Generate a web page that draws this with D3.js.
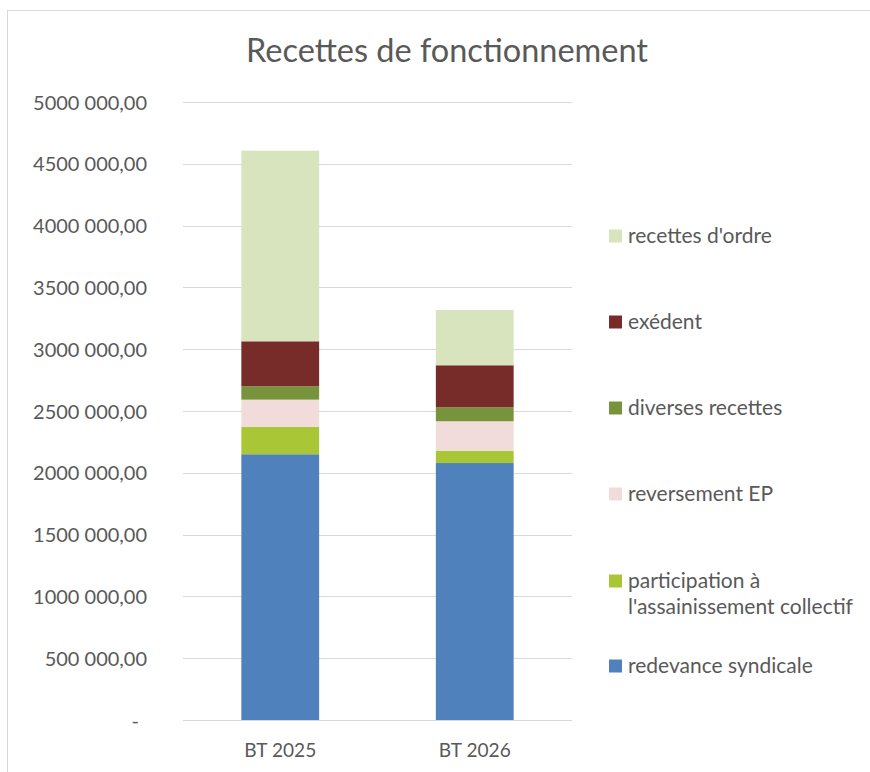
<!DOCTYPE html>
<html><head><meta charset="utf-8">
<script src="https://cdn.jsdelivr.net/npm/d3@7"></script>
<style>body{margin:0;background:#fff}svg{display:block}</style>
</head><body>
<script>
const categories = ["BT 2025", "BT 2026"];
const seriesNames = ["redevance syndicale", "participation à l'assainissement collectif", "reversement EP", "diverses recettes", "exédent", "recettes d'ordre"];
const redevance = [2150000, 2079000];
const participation = [221000, 100000];
const reversementEP = [221000, 238000];
const diverses = [108000, 113000];
const excedent = [364000, 340000];
const ordre = [1542000, 447000];
const yTicks = [0, 500000, 1000000, 1500000, 2000000, 2500000, 3000000, 3500000, 4000000, 4500000, 5000000];
const colors = ["#4F81BD", "#A9C636", "#F2DCDB", "#77933C", "#772C2A", "#D7E4BD"];
const title = "Recettes de fonctionnement";

const W = 870, H = 772;
const FONT = "Lato, 'Noto Sans', sans-serif";
const TXT = "#595959";
const svg = d3.select("body").append("svg").attr("width", W).attr("height", H);
svg.append("rect").attr("x", 7.5).attr("y", 10.5).attr("width", 900).attr("height", 900)
  .attr("fill", "#fff").attr("stroke", "#D9D9D9");

const plot = {l: 183, r: 572, t: 102, b: 720};
const y = d3.scaleLinear().domain([0, 5000000]).range([plot.b, plot.t]);
const x = d3.scaleBand().domain(categories).range([plot.l, plot.r]).paddingInner(0.6).paddingOuter(0.3);

const seriesVals = [redevance, participation, reversementEP, diverses, excedent, ordre];
const table = categories.map((c, i) => {
  const o = {cat: c};
  seriesNames.forEach((n, k) => o[n] = seriesVals[k][i]);
  return o;
});
const stack = d3.stack().keys(seriesNames)(table);

function fit(sel, sample, target) {
  const t = svg.append("text").attr("font-family", FONT).attr("font-size", 20).text(sample);
  const w = t.node().getComputedTextLength();
  t.remove();
  return 20 * target / w;
}

// gridlines
svg.append("g").selectAll("line").data(yTicks).join("line")
  .attr("x1", plot.l).attr("x2", plot.r)
  .attr("y1", d => Math.round(y(d)) + 0.5).attr("y2", d => Math.round(y(d)) + 0.5)
  .attr("stroke", "#D9D9D9").attr("stroke-width", 1);

// bars
svg.append("g").selectAll("g").data(stack).join("g")
  .attr("fill", (d, i) => colors[i])
  .selectAll("rect").data(d => d).join("rect")
  .attr("x", d => x(d.data.cat))
  .attr("width", x.bandwidth())
  .attr("y", d => y(d[1]))
  .attr("height", d => y(d[0]) - y(d[1]));

// y labels
const fmt = v => {
  if (v === 0) return "-";
  const s = Math.round(v).toString();
  const thousands = s.slice(0, -3), rest = s.slice(-3);
  return thousands + " " + rest + ",00";
};
const ySize = fit(null, "5000 000,00", 114);
const yAxis = d3.axisLeft(y).tickValues(yTicks).tickFormat(fmt).tickSize(0).tickPadding(0);
const ga = svg.append("g").attr("transform", "translate(147,0)").call(yAxis);
ga.select(".domain").remove();
ga.selectAll("text").attr("font-family", FONT).attr("font-size", ySize).attr("fill", TXT)
  .attr("dy", "0.35em")
  .attr("dx", d => d === 0 ? -8 : 0);

// x labels
const xSize = fit(null, "BT 2025", 72);
const gx = svg.append("g").attr("transform", `translate(0,${plot.b})`)
  .call(d3.axisBottom(x).tickSize(0).tickPadding(0));
gx.select(".domain").remove();
gx.selectAll("text").attr("font-family", FONT).attr("font-size", xSize).attr("fill", TXT)
  .attr("y", 30).attr("dy", "0.35em");

// title
const tSize = fit(null, title, 402);
svg.append("text").attr("x", 447).attr("y", 51).attr("dy", "0.35em").attr("text-anchor", "middle")
  .attr("font-family", FONT).attr("font-size", tSize).attr("fill", TXT).text(title);

// legend
const lSize = fit(null, "l'assainissement collectif", 225);
const legendY = [666, 581, 494, 408, 322, 236];
const lg = svg.append("g");
seriesNames.forEach((n, i) => {
  const g = lg.append("g").attr("transform", `translate(609,${legendY[i]})`);
  g.append("rect").attr("x", 0).attr("y", -6.5).attr("width", 13).attr("height", 13).attr("fill", colors[i]);
  const t = g.append("text").attr("x", 19).attr("y", 0).attr("dy", "0.35em")
    .attr("font-family", FONT).attr("font-size", lSize).attr("fill", TXT);
  if (n.startsWith("participation")) {
    t.append("tspan").attr("x", 19).text("participation à");
    t.append("tspan").attr("x", 19).attr("dy", 26).text("l'assainissement collectif");
  } else t.text(n);
});
</script>
</body></html>
